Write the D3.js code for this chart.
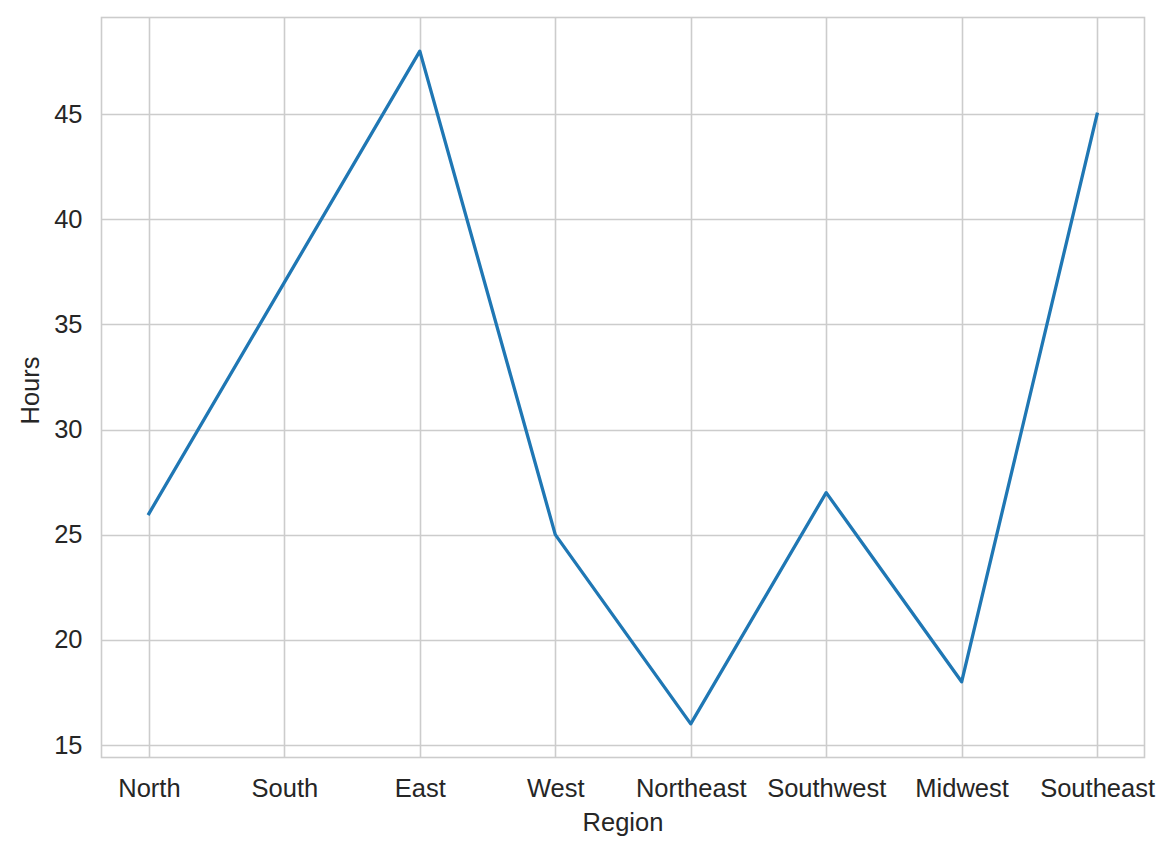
<!DOCTYPE html>
<html>
<head>
<meta charset="utf-8">
<script src="https://cdn.jsdelivr.net/npm/d3@7"></script>
<style>
  body { margin: 0; background: #fff; }
  text { font-family: "Liberation Sans", Arial, sans-serif; fill: #262626; }
</style>
</head>
<body>
<div id="figure-div"></div>
<script>
var regions = ["North", "South", "East", "West", "Northeast", "Southwest", "Midwest", "Southeast"];
var hours = [26, 37, 48, 25, 16, 27, 18, 45];
var yTicks = [15, 20, 25, 30, 35, 40, 45];

var w = 1175;
var h = 854;
var pLeft = 101.5, pRight = 1144.5, pTop = 17.5, pBottom = 757.5;

var svg = d3.select("#figure-div").append("svg")
	.attr("width", w)
	.attr("height", h);

// category index scale with matplotlib-style 5% margins
var xScale = d3.scaleLinear()
	.domain([-0.35, regions.length - 1 + 0.35])
	.range([pLeft, pRight]);

var yMin = d3.min(hours), yMax = d3.max(hours);
var pad = (yMax - yMin) * 0.05;
var yScale = d3.scaleLinear()
	.domain([yMin - pad, yMax + pad])
	.range([pBottom, pTop]);

// gridlines
svg.append("g")
	.selectAll("line")
	.data(regions)
	.enter()
	.append("line")
	.attr("x1", function(d, i) { return Math.round(xScale(i)) + 0.5 })
	.attr("x2", function(d, i) { return Math.round(xScale(i)) + 0.5 })
	.attr("y1", pTop)
	.attr("y2", pBottom)
	.attr("stroke", "#cccccc")
	.attr("stroke-width", 1.6);

svg.append("g")
	.selectAll("line")
	.data(yTicks)
	.enter()
	.append("line")
	.attr("x1", pLeft)
	.attr("x2", pRight)
	.attr("y1", function(d) { return Math.round(yScale(d)) + 0.5 })
	.attr("y2", function(d) { return Math.round(yScale(d)) + 0.5 })
	.attr("stroke", "#cccccc")
	.attr("stroke-width", 1.6);

// frame
svg.append("rect")
	.attr("x", pLeft)
	.attr("y", pTop)
	.attr("width", pRight - pLeft)
	.attr("height", pBottom - pTop)
	.attr("fill", "none")
	.attr("stroke", "#cccccc")
	.attr("stroke-width", 1.6);

// axes (ticks hidden, labels only)
var xAxis = d3.axisBottom(xScale)
	.tickValues(d3.range(regions.length))
	.tickFormat(function(i) { return regions[i] })
	.tickSize(0)
	.tickPadding(21);
svg.append("g")
	.attr("transform", "translate(0," + pBottom + ")")
	.call(xAxis)
	.call(function(g) { g.select(".domain").remove() })
	.selectAll("text")
	.style("font-size", "25.5px")
	.style("font-family", "'Liberation Sans', Arial, sans-serif")
	.attr("fill", "#262626");

var yAxis = d3.axisLeft(yScale)
	.tickValues(yTicks)
	.tickSize(0)
	.tickPadding(19);
svg.append("g")
	.attr("transform", "translate(" + pLeft + ",0)")
	.call(yAxis)
	.call(function(g) { g.select(".domain").remove() })
	.selectAll("text")
	.style("font-size", "25.5px")
	.style("font-family", "'Liberation Sans', Arial, sans-serif")
	.attr("fill", "#262626");

// line
var line = d3.line()
	.x(function(d, i) { return xScale(i) })
	.y(function(d) { return yScale(d) });

svg.append("path")
	.datum(hours)
	.attr("d", line)
	.attr("fill", "none")
	.attr("stroke", "#1f77b4")
	.attr("stroke-width", 3.3)
	.attr("stroke-linejoin", "round")
	.attr("stroke-linecap", "square");

// axis labels
svg.append("text")
	.attr("x", (pLeft + pRight) / 2)
	.attr("y", 831)
	.style("text-anchor", "middle")
	.style("font-size", "25.5px")
	.text("Region");

svg.append("text")
	.attr("transform", "rotate(-90)")
	.attr("x", -(pTop + pBottom) / 2 - 3)
	.attr("y", 39)
	.style("text-anchor", "middle")
	.style("font-size", "25.5px")
	.text("Hours");
</script>
</body>
</html>
